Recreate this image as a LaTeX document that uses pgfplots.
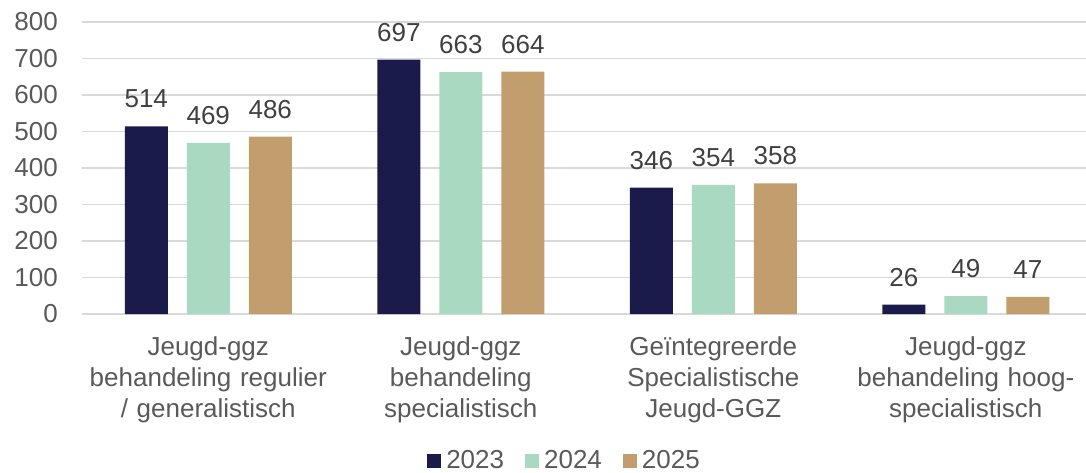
\documentclass[border=0pt]{standalone}
\usepackage{pgfplots}
\pgfplotsset{compat=1.18}
\usepackage{fontspec}
\setmainfont{Liberation Sans}
\definecolor{cNavy}{HTML}{1B1B4B}
\definecolor{cMint}{HTML}{A9D9C1}
\definecolor{cTan}{HTML}{C29E6E}
\definecolor{cGrid}{HTML}{D9D9D9}
\definecolor{cText}{HTML}{595959}
\definecolor{cLab}{HTML}{404040}
\begin{document}
\fontsize{26}{31}\selectfont
\begin{tikzpicture}
\begin{axis}[
  at={(0pt,0pt)}, anchor=south west,
  scale only axis, width=1004pt, height=292pt,
  xmin=-0.5, xmax=3.476, ymin=0, ymax=800,
  ybar=19pt, bar width=43pt,
  ytick={0,100,...,800},
  xtick={0,1,2,3},
  xticklabels={{Jeugd-ggz\\behandeling regulier\\/ generalistisch},
               {Jeugd-ggz\\behandeling\\specialistisch},
               {Geïntegreerde\\Specialistische\\Jeugd-GGZ},
               {Jeugd-ggz\\behandeling hoog-\\specialistisch}},
  xticklabel style={align=center, text width=260pt, inner sep=0pt, yshift=-22pt,
    font=\fontsize{26}{31}\selectfont, text=cText},
  yticklabel style={inner sep=0pt, xshift=-24pt, font=\fontsize{26}{31}\selectfont, text=cText},
  /pgf/number format/assume math mode=true,
  ymajorgrids, grid style={cGrid, line width=1.5pt},
  axis line style={draw=none},
  major tick length=0pt,
  tick style={draw=none},
  nodes near coords,
  every node near coord/.append style={font=\fontsize{26}{31}\selectfont, text=cLab, anchor=south, inner sep=0pt, yshift=18pt},
  legend columns=3,
  legend style={at={(rel axis cs:0.4796,-0.5034)}, anchor=center, draw=none, fill=none,
    font=\fontsize{26}{31}\selectfont, text=cText,
    nodes={inner sep=0pt},
    /tikz/every odd column/.append style={column sep=5pt},
    /tikz/every even column/.append style={column sep=21pt}},
  legend image code/.code={\fill[#1] (0pt,-7pt) rectangle (14pt,7pt);},
]
\addplot[fill=cNavy, draw=none] coordinates {(0,514) (1,697) (2,346) (3,26)};
\addplot[fill=cMint, draw=none] coordinates {(0,469) (1,663) (2,354) (3,49)};
\addplot[fill=cTan, draw=none] coordinates {(0,486) (1,664) (2,358) (3,47)};
\legend{2023,2024,2025}
\end{axis}
\pgfresetboundingbox
\path (-82pt,-158pt) rectangle (1004pt,314pt);
\end{tikzpicture}
\end{document}
